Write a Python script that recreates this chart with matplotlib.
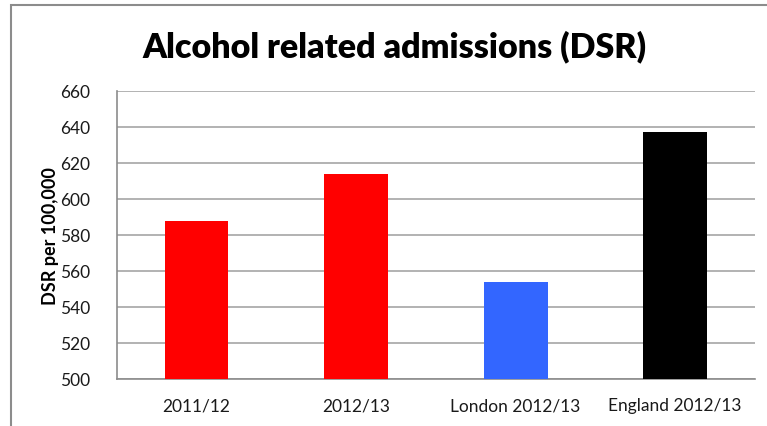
import matplotlib
matplotlib.use("Agg")
import matplotlib.pyplot as plt
from matplotlib.patches import Rectangle

# Data ----------------------------------------------------------------------
categories = ["2011/12", "2012/13", "London 2012/13", "England 2012/13"]
dsr_values = [588, 614, 554, 637]
bar_colours = ["#ff0000", "#ff0000", "#3366ff", "#000000"]
y_ticks = [500, 520, 540, 560, 580, 600, 620, 640, 660]

plt.rcParams["font.family"] = ["Lato", "DejaVu Sans"]

fig = plt.figure(figsize=(7.67, 4.27), dpi=100)
W, H = 767, 427

# outer chart frame (runs off the right and bottom of the picture)
fig.patches.append(Rectangle((11 / W, -0.05), 1.1, 1.05 - 6 / H,
                             transform=fig.transFigure, fill=False,
                             edgecolor="#8c8c8c", linewidth=1.5, clip_on=False))

ax = fig.add_axes([116.7 / W, 1 - 380 / H, (755 - 116.7) / W, (380 - 92) / H])

x = range(len(categories))
ax.bar(x, [v - 500 for v in dsr_values], bottom=500, width=0.4, color=bar_colours, zorder=3)

ax.set_xlim(-0.5, 3.5)
ax.set_ylim(500, 660)
ax.set_yticks(y_ticks)
ax.set_xticks(list(x))
ax.set_xticklabels(categories)
ax.tick_params(axis="both", length=0, labelsize=12.5, labelcolor="#1a1a1a")
ax.tick_params(axis="y", pad=19)
ax.tick_params(axis="x", pad=13)

ax.yaxis.grid(True, color="#a6a6a6", linewidth=1.2, zorder=0)
ax.set_axisbelow(True)
for s in ["top", "right"]:
    ax.spines[s].set_visible(False)
for s in ["left", "bottom"]:
    ax.spines[s].set_color("#8c8c8c")
    ax.spines[s].set_linewidth(1.2)

ax.set_ylabel("DSR per 100,000", fontsize=13, fontweight="bold", labelpad=1)

fig.text(394 / W, 1 - 47 / H, "Alcohol related admissions (DSR)",
         fontsize=24.5, fontweight="heavy", ha="center", va="center")

fig.savefig("out.png", dpi=100)
